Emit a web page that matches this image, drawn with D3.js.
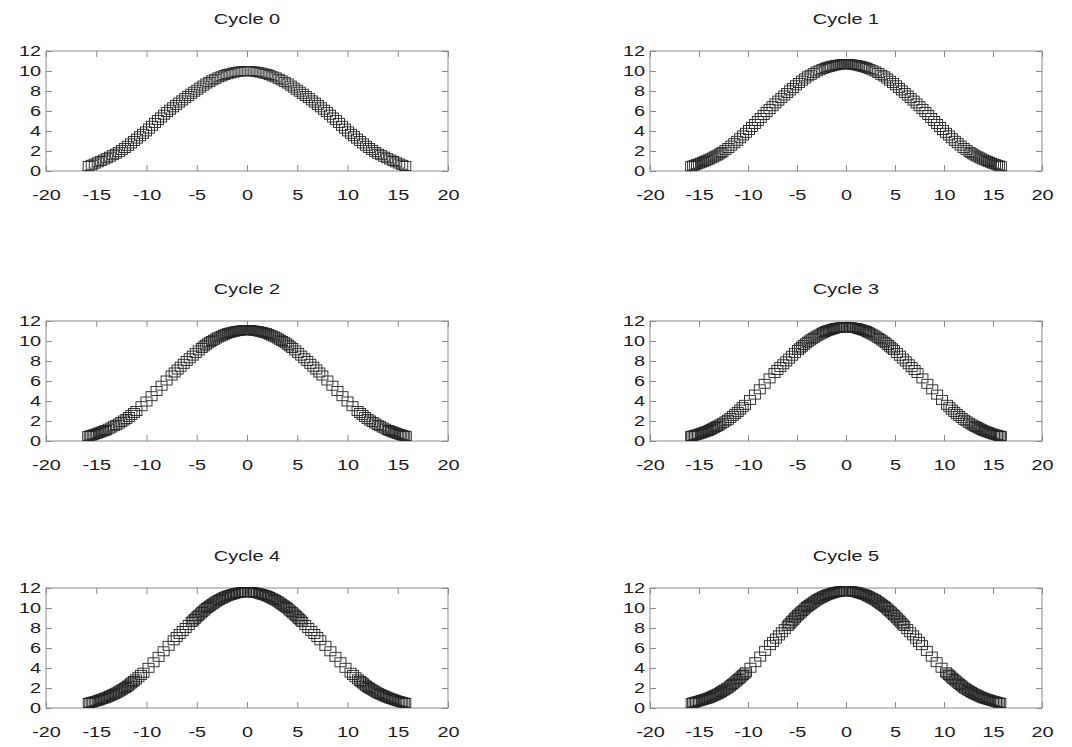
<!DOCTYPE html>
<html>
<head>
<meta charset="utf-8">
<script src="https://cdn.jsdelivr.net/npm/d3@7"></script>
<style>
  body { margin: 0; background: #fff; }
  svg { display: block; font-family: "Liberation Sans", Arial, sans-serif; }
  .box { fill: none; stroke: #8a8a8a; stroke-width: 1; }
  .tick line { stroke: #8a8a8a; }
  .domain { display: none; }
  .tick text { fill: #1a1a1a; font-size: 14px; }
  .title { fill: #1a1a1a; font-size: 14px; text-anchor: middle; }
  .pt { fill: none; stroke: #222; stroke-width: 0.9; }
</style>
</head>
<body>
<svg id="chart"></svg>
<script>
// tick values + panel titles
const titles = ['Cycle 0', 'Cycle 1', 'Cycle 2', 'Cycle 3', 'Cycle 4', 'Cycle 5'];
const xTicks = [-20, -15, -10, -5, 0, 5, 10, 15, 20];
const yTicks = [0, 2, 4, 6, 8, 10, 12];

// particle positions [x, y]
const cycle0 = [
  [-15.75,0.5],[-15.45,0.62],[-15.15,0.74],[-14.85,0.87],[-14.55,1.0],[-14.25,1.14],[-13.95,1.28],[-13.65,1.43],[-13.35,1.58],[-13.05,1.73],
  [-12.75,1.91],[-12.45,2.11],[-12.15,2.3],[-11.85,2.52],[-11.55,2.76],[-11.25,3.0],[-10.95,3.24],[-10.65,3.48],[-10.35,3.72],[-10.05,3.96],
  [-9.75,4.24],[-9.45,4.52],[-9.15,4.81],[-8.85,5.09],[-8.55,5.35],[-8.25,5.63],[-7.95,5.89],[-7.65,6.13],[-7.35,6.37],[-7.05,6.61],
  [-6.75,6.84],[-6.45,7.06],[-6.15,7.29],[-5.85,7.5],[-5.55,7.72],[-5.25,7.93],[-4.95,8.13],[-4.65,8.34],[-4.35,8.54],[-4.05,8.75],
  [-3.75,8.91],[-3.45,9.07],[-3.15,9.22],[-2.85,9.36],[-2.55,9.47],[-2.25,9.59],[-1.95,9.69],[-1.65,9.76],[-1.35,9.84],[-1.05,9.91],
  [-0.75,9.94],[-0.45,9.97],[-0.15,9.99],
  [0.15,9.99],[0.45,9.97],[0.75,9.94],[1.05,9.91],[1.35,9.84],[1.65,9.76],[1.95,9.69],[2.25,9.59],[2.55,9.47],[2.85,9.36],
  [3.15,9.22],[3.45,9.07],[3.75,8.91],[4.05,8.75],[4.35,8.54],[4.65,8.34],[4.95,8.13],[5.25,7.93],[5.55,7.72],[5.85,7.5],
  [6.15,7.29],[6.45,7.06],[6.75,6.84],[7.05,6.61],[7.35,6.37],[7.65,6.13],[7.95,5.89],[8.25,5.63],[8.55,5.35],[8.85,5.09],
  [9.15,4.81],[9.45,4.52],[9.75,4.24],[10.05,3.96],[10.35,3.72],[10.65,3.48],[10.95,3.24],[11.25,3.0],[11.55,2.76],[11.85,2.52],
  [12.15,2.3],[12.45,2.11],[12.75,1.91],[13.05,1.73],[13.35,1.58],[13.65,1.43],[13.95,1.28],[14.25,1.14],[14.55,1.0],[14.85,0.87],
  [15.15,0.74],[15.45,0.62],[15.75,0.5]
];

const cycle1 = [
  [-15.8,0.48],[-15.6,0.55],[-15.4,0.62],[-15.2,0.68],[-15.0,0.75],[-14.8,0.83],[-14.6,0.91],[-14.4,0.99],[-14.2,1.07],[-14.0,1.15],
  [-13.8,1.25],[-13.6,1.35],[-13.4,1.45],[-13.2,1.55],[-13.0,1.65],[-12.8,1.78],[-12.6,1.91],[-12.3,2.11],[-12.0,2.3],[-11.7,2.54],
  [-11.4,2.78],[-11.1,3.02],[-10.8,3.28],[-10.5,3.55],[-10.2,3.82],[-9.9,4.1],[-9.6,4.4],[-9.3,4.7],[-9.0,5.0],[-8.7,5.3],
  [-8.4,5.6],[-8.1,5.9],[-7.8,6.19],[-7.5,6.48],[-7.2,6.76],[-6.9,7.04],[-6.6,7.29],[-6.3,7.55],[-6.0,7.8],[-5.7,8.06],
  [-5.4,8.31],[-5.1,8.57],[-4.8,8.8],[-4.5,9.03],[-4.2,9.25],[-3.9,9.46],[-3.6,9.62],[-3.3,9.79],[-3.0,9.95],[-2.7,10.07],
  [-2.4,10.19],[-2.1,10.31],[-1.9,10.38],[-1.7,10.43],[-1.5,10.48],[-1.3,10.53],[-1.1,10.58],[-0.9,10.61],[-0.7,10.63],[-0.5,10.66],
  [-0.3,10.69],[-0.1,10.7],
  [0.1,10.7],[0.3,10.69],[0.5,10.66],[0.7,10.63],[0.9,10.61],[1.1,10.58],[1.3,10.53],[1.5,10.48],[1.7,10.43],[1.9,10.38],
  [2.1,10.31],[2.4,10.19],[2.7,10.07],[3.0,9.95],[3.3,9.79],[3.6,9.62],[3.9,9.46],[4.2,9.25],[4.5,9.03],[4.8,8.8],
  [5.1,8.57],[5.4,8.31],[5.7,8.06],[6.0,7.8],[6.3,7.55],[6.6,7.29],[6.9,7.04],[7.2,6.76],[7.5,6.48],[7.8,6.19],
  [8.1,5.9],[8.4,5.6],[8.7,5.3],[9.0,5.0],[9.3,4.7],[9.6,4.4],[9.9,4.1],[10.2,3.82],[10.5,3.55],[10.8,3.28],
  [11.1,3.02],[11.4,2.78],[11.7,2.54],[12.0,2.3],[12.3,2.11],[12.6,1.91],[12.8,1.78],[13.0,1.65],[13.2,1.55],[13.4,1.45],
  [13.6,1.35],[13.8,1.25],[14.0,1.15],[14.2,1.07],[14.4,0.99],[14.6,0.91],[14.8,0.83],[15.0,0.75],[15.2,0.68],[15.4,0.62],
  [15.6,0.55],[15.8,0.48]
];

const cycle2 = [
  [-15.8,0.49],[-15.65,0.53],[-15.5,0.57],[-15.35,0.62],[-15.2,0.66],[-15.05,0.7],[-14.9,0.76],[-14.75,0.82],[-14.6,0.87],[-14.45,0.93],
  [-14.3,0.99],[-14.15,1.04],[-14.0,1.1],[-13.75,1.23],[-13.5,1.35],[-13.25,1.48],[-13.0,1.6],[-12.75,1.75],[-12.5,1.9],[-12.25,2.05],
  [-12.0,2.2],[-11.75,2.4],[-11.5,2.6],[-11.25,2.8],[-11.0,3.0],[-10.5,3.48],[-10.0,3.95],[-9.5,4.48],[-9.0,5.0],[-8.5,5.53],
  [-8.0,6.05],[-7.5,6.55],[-7.2,6.85],[-6.9,7.15],[-6.6,7.43],[-6.3,7.72],[-6.0,8.0],[-5.7,8.27],[-5.4,8.54],[-5.1,8.81],
  [-4.8,9.06],[-4.5,9.3],[-4.3,9.46],[-4.1,9.62],[-3.9,9.76],[-3.7,9.88],[-3.5,10.0],[-3.3,10.12],[-3.1,10.24],[-2.9,10.35],
  [-2.7,10.44],[-2.5,10.53],[-2.3,10.62],[-2.1,10.71],[-1.9,10.78],[-1.7,10.83],[-1.5,10.88],[-1.3,10.93],[-1.1,10.98],[-0.9,11.01],
  [-0.7,11.03],[-0.5,11.06],[-0.3,11.09],[-0.1,11.1],
  [0.1,11.1],[0.3,11.09],[0.5,11.06],[0.7,11.03],[0.9,11.01],[1.1,10.98],[1.3,10.93],[1.5,10.88],[1.7,10.83],[1.9,10.78],
  [2.1,10.71],[2.3,10.62],[2.5,10.53],[2.7,10.44],[2.9,10.35],[3.1,10.24],[3.3,10.12],[3.5,10.0],[3.7,9.88],[3.9,9.76],
  [4.1,9.62],[4.3,9.46],[4.5,9.3],[4.8,9.06],[5.1,8.81],[5.4,8.54],[5.7,8.27],[6.0,8.0],[6.3,7.72],[6.6,7.43],
  [6.9,7.15],[7.2,6.85],[7.5,6.55],[8.0,6.05],[8.5,5.53],[9.0,5.0],[9.5,4.48],[10.0,3.95],[10.5,3.48],[11.0,3.0],
  [11.25,2.8],[11.5,2.6],[11.75,2.4],[12.0,2.2],[12.25,2.05],[12.5,1.9],[12.75,1.75],[13.0,1.6],[13.25,1.48],[13.5,1.35],
  [13.75,1.23],[14.0,1.1],[14.15,1.04],[14.3,0.99],[14.45,0.93],[14.6,0.87],[14.75,0.82],[14.9,0.76],[15.05,0.7],[15.2,0.66],
  [15.35,0.62],[15.5,0.57],[15.65,0.53],[15.8,0.49]
];

const cycle3 = [
  [-15.8,0.49],[-15.7,0.51],[-15.55,0.55],[-15.4,0.59],[-15.25,0.63],[-15.1,0.67],[-14.95,0.72],[-14.8,0.77],[-14.65,0.82],[-14.5,0.88],
  [-14.35,0.93],[-14.2,0.98],[-14.05,1.03],[-13.9,1.1],[-13.75,1.18],[-13.6,1.25],[-13.45,1.33],[-13.3,1.4],[-13.15,1.48],[-13.0,1.55],
  [-12.8,1.67],[-12.55,1.82],[-12.3,1.97],[-12.05,2.12],[-11.8,2.31],[-11.55,2.51],[-11.3,2.71],[-11.05,2.91],[-10.8,3.14],[-10.55,3.38],
  [-10.3,3.62],[-9.8,4.11],[-9.3,4.64],[-8.8,5.17],[-8.3,5.72],[-7.8,6.26],[-7.3,6.79],[-7.0,7.1],[-6.7,7.39],[-6.4,7.67],
  [-6.1,7.96],[-5.8,8.24],[-5.5,8.53],[-5.2,8.81],[-4.9,9.09],[-4.7,9.26],[-4.5,9.43],[-4.3,9.6],[-4.1,9.77],[-3.9,9.92],
  [-3.7,10.05],[-3.5,10.18],[-3.3,10.31],[-3.1,10.44],[-2.9,10.55],[-2.7,10.65],[-2.5,10.75],[-2.35,10.83],[-2.2,10.9],[-2.05,10.98],
  [-1.9,11.03],[-1.75,11.08],[-1.6,11.12],[-1.45,11.17],[-1.3,11.21],[-1.15,11.26],[-1.0,11.3],[-0.85,11.31],[-0.7,11.33],[-0.55,11.35],
  [-0.4,11.37],[-0.25,11.39],[-0.1,11.4],
  [0.1,11.4],[0.25,11.39],[0.4,11.37],[0.55,11.35],[0.7,11.33],[0.85,11.31],[1.0,11.3],[1.15,11.26],[1.3,11.21],[1.45,11.17],
  [1.6,11.12],[1.75,11.08],[1.9,11.03],[2.05,10.98],[2.2,10.9],[2.35,10.83],[2.5,10.75],[2.7,10.65],[2.9,10.55],[3.1,10.44],
  [3.3,10.31],[3.5,10.18],[3.7,10.05],[3.9,9.92],[4.1,9.77],[4.3,9.6],[4.5,9.43],[4.7,9.26],[4.9,9.09],[5.2,8.81],
  [5.5,8.53],[5.8,8.24],[6.1,7.96],[6.4,7.67],[6.7,7.39],[7.0,7.1],[7.3,6.79],[7.8,6.26],[8.3,5.72],[8.8,5.17],
  [9.3,4.64],[9.8,4.11],[10.3,3.62],[10.55,3.38],[10.8,3.14],[11.05,2.91],[11.3,2.71],[11.55,2.51],[11.8,2.31],[12.05,2.12],
  [12.3,1.97],[12.55,1.82],[12.8,1.67],[13.0,1.55],[13.15,1.48],[13.3,1.4],[13.45,1.33],[13.6,1.25],[13.75,1.18],[13.9,1.1],
  [14.05,1.03],[14.2,0.98],[14.35,0.93],[14.5,0.88],[14.65,0.82],[14.8,0.77],[14.95,0.72],[15.1,0.67],[15.25,0.63],[15.4,0.59],
  [15.55,0.55],[15.7,0.51],[15.8,0.49]
];

const cycle4 = [
  [-15.75,0.5],[-15.6,0.54],[-15.45,0.58],[-15.3,0.62],[-15.15,0.66],[-15.0,0.7],[-14.85,0.75],[-14.7,0.81],[-14.55,0.86],[-14.4,0.91],
  [-14.25,0.96],[-14.1,1.02],[-13.95,1.07],[-13.8,1.14],[-13.65,1.21],[-13.5,1.28],[-13.35,1.34],[-13.2,1.41],[-13.05,1.48],[-12.9,1.56],
  [-12.75,1.65],[-12.6,1.74],[-12.45,1.83],[-12.3,1.92],[-12.15,2.01],[-12.0,2.1],[-11.85,2.22],[-11.7,2.34],[-11.55,2.46],[-11.4,2.58],
  [-11.25,2.7],[-11.05,2.86],[-10.8,3.08],[-10.55,3.31],[-10.3,3.53],[-9.8,4.02],[-9.3,4.57],[-8.8,5.12],[-8.3,5.67],[-7.8,6.22],
  [-7.3,6.77],[-7.0,7.1],[-6.7,7.4],[-6.4,7.7],[-6.1,8.0],[-5.8,8.3],[-5.5,8.6],[-5.35,8.75],[-5.2,8.9],[-5.05,9.05],
  [-4.9,9.19],[-4.75,9.33],[-4.6,9.46],[-4.45,9.6],[-4.3,9.73],[-4.15,9.87],[-4.0,10.0],[-3.85,10.11],[-3.7,10.21],[-3.55,10.32],
  [-3.4,10.42],[-3.25,10.53],[-3.1,10.63],[-2.95,10.73],[-2.8,10.8],[-2.65,10.88],[-2.5,10.95],[-2.35,11.03],[-2.2,11.1],[-2.05,11.18],
  [-1.9,11.23],[-1.75,11.28],[-1.6,11.32],[-1.45,11.37],[-1.3,11.41],[-1.15,11.46],[-1.0,11.5],[-0.85,11.52],[-0.7,11.54],[-0.55,11.56],
  [-0.4,11.58],[-0.25,11.59],[-0.1,11.6],
  [0.1,11.6],[0.25,11.59],[0.4,11.58],[0.55,11.56],[0.7,11.54],[0.85,11.52],[1.0,11.5],[1.15,11.46],[1.3,11.41],[1.45,11.37],
  [1.6,11.32],[1.75,11.28],[1.9,11.23],[2.05,11.18],[2.2,11.1],[2.35,11.03],[2.5,10.95],[2.65,10.88],[2.8,10.8],[2.95,10.73],
  [3.1,10.63],[3.25,10.53],[3.4,10.42],[3.55,10.32],[3.7,10.21],[3.85,10.11],[4.0,10.0],[4.15,9.87],[4.3,9.73],[4.45,9.6],
  [4.6,9.46],[4.75,9.33],[4.9,9.19],[5.05,9.05],[5.2,8.9],[5.35,8.75],[5.5,8.6],[5.8,8.3],[6.1,8.0],[6.4,7.7],
  [6.7,7.4],[7.0,7.1],[7.3,6.77],[7.8,6.22],[8.3,5.67],[8.8,5.12],[9.3,4.57],[9.8,4.02],[10.3,3.53],[10.55,3.31],
  [10.8,3.08],[11.05,2.86],[11.25,2.7],[11.4,2.58],[11.55,2.46],[11.7,2.34],[11.85,2.22],[12.0,2.1],[12.15,2.01],[12.3,1.92],
  [12.45,1.83],[12.6,1.74],[12.75,1.65],[12.9,1.56],[13.05,1.48],[13.2,1.41],[13.35,1.34],[13.5,1.28],[13.65,1.21],[13.8,1.14],
  [13.95,1.07],[14.1,1.02],[14.25,0.96],[14.4,0.91],[14.55,0.86],[14.7,0.81],[14.85,0.75],[15.0,0.7],[15.15,0.66],[15.3,0.62],
  [15.45,0.58],[15.6,0.54],[15.75,0.5]
];

const cycle5 = [
  [-15.75,0.5],[-15.6,0.54],[-15.45,0.58],[-15.3,0.62],[-15.15,0.66],[-15.0,0.7],[-14.85,0.75],[-14.7,0.79],[-14.55,0.84],[-14.4,0.88],
  [-14.25,0.93],[-14.1,0.97],[-13.95,1.02],[-13.8,1.09],[-13.65,1.16],[-13.5,1.23],[-13.35,1.29],[-13.2,1.36],[-13.05,1.43],[-12.9,1.51],
  [-12.75,1.6],[-12.6,1.69],[-12.45,1.78],[-12.3,1.87],[-12.15,1.96],[-12.0,2.05],[-11.85,2.17],[-11.7,2.29],[-11.55,2.41],[-11.4,2.53],
  [-11.25,2.65],[-11.1,2.77],[-10.95,2.9],[-10.8,3.03],[-10.65,3.17],[-10.5,3.3],[-10.35,3.44],[-10.2,3.57],[-9.75,4.03],[-9.25,4.58],
  [-8.75,5.14],[-8.25,5.71],[-7.75,6.28],[-7.45,6.61],[-7.15,6.94],[-6.85,7.26],[-6.55,7.57],[-6.25,7.89],[-5.95,8.2],[-5.8,8.36],
  [-5.65,8.52],[-5.5,8.68],[-5.35,8.83],[-5.2,8.99],[-5.05,9.15],[-4.9,9.29],[-4.75,9.43],[-4.6,9.56],[-4.45,9.7],[-4.3,9.83],
  [-4.15,9.97],[-4.0,10.1],[-3.85,10.21],[-3.7,10.31],[-3.55,10.42],[-3.4,10.52],[-3.25,10.63],[-3.1,10.73],[-2.95,10.83],[-2.8,10.9],
  [-2.65,10.98],[-2.5,11.05],[-2.35,11.13],[-2.2,11.2],[-2.05,11.28],[-1.9,11.33],[-1.75,11.38],[-1.6,11.42],[-1.45,11.47],[-1.3,11.51],
  [-1.15,11.56],[-1.0,11.6],[-0.85,11.62],[-0.7,11.64],[-0.55,11.66],[-0.4,11.68],[-0.25,11.69],[-0.1,11.7],
  [0.1,11.7],[0.25,11.69],[0.4,11.68],[0.55,11.66],[0.7,11.64],[0.85,11.62],[1.0,11.6],[1.15,11.56],[1.3,11.51],[1.45,11.47],
  [1.6,11.42],[1.75,11.38],[1.9,11.33],[2.05,11.28],[2.2,11.2],[2.35,11.13],[2.5,11.05],[2.65,10.98],[2.8,10.9],[2.95,10.83],
  [3.1,10.73],[3.25,10.63],[3.4,10.52],[3.55,10.42],[3.7,10.31],[3.85,10.21],[4.0,10.1],[4.15,9.97],[4.3,9.83],[4.45,9.7],
  [4.6,9.56],[4.75,9.43],[4.9,9.29],[5.05,9.15],[5.2,8.99],[5.35,8.83],[5.5,8.68],[5.65,8.52],[5.8,8.36],[5.95,8.2],
  [6.25,7.89],[6.55,7.57],[6.85,7.26],[7.15,6.94],[7.45,6.61],[7.75,6.28],[8.25,5.71],[8.75,5.14],[9.25,4.58],[9.75,4.03],
  [10.2,3.57],[10.35,3.44],[10.5,3.3],[10.65,3.17],[10.8,3.03],[10.95,2.9],[11.1,2.77],[11.25,2.65],[11.4,2.53],[11.55,2.41],
  [11.7,2.29],[11.85,2.17],[12.0,2.05],[12.15,1.96],[12.3,1.87],[12.45,1.78],[12.6,1.69],[12.75,1.6],[12.9,1.51],[13.05,1.43],
  [13.2,1.36],[13.35,1.29],[13.5,1.23],[13.65,1.16],[13.8,1.09],[13.95,1.02],[14.1,0.97],[14.25,0.93],[14.4,0.88],[14.55,0.84],
  [14.7,0.79],[14.85,0.75],[15.0,0.7],[15.15,0.66],[15.3,0.62],[15.45,0.58],[15.6,0.54],[15.75,0.5]
];

const cycles = [cycle0, cycle1, cycle2, cycle3, cycle4, cycle5];

const width = 1072, height = 747;
const colLeft = [46, 650], colWidth = [402, 392];
const rowTop = [51, 321, 588], boxH = 120;
const markW = 11, markH = 9;
const sx = 1.42; // the original lettering is drawn wide

const svg = d3.select('#chart').attr('width', width).attr('height', height);

cycles.forEach((pts, i) => {
  const col = i % 2, row = Math.floor(i / 2);
  const w = colWidth[col];
  const g = svg.append('g').attr('transform', `translate(${colLeft[col]},${rowTop[row]})`);

  const x = d3.scaleLinear().domain([-20, 20]).range([0, w]);
  const y = d3.scaleLinear().domain([0, 12]).range([boxH, 0]);

  g.append('text').attr('class', 'title')
    .attr('transform', `translate(${w / 2},-27) scale(${sx},1)`).text(titles[i]);

  // tics point inward on all four sides, labels only bottom/left
  g.append('g').attr('transform', `translate(0,${boxH})`)
    .call(d3.axisBottom(x).tickValues(xTicks).tickSizeInner(-6).tickSizeOuter(0).tickPadding(19).tickFormat(d => String(d)))
    .selectAll('text').attr('transform', `scale(${sx},1)`);
  g.append('g')
    .call(d3.axisTop(x).tickValues(xTicks).tickSizeInner(-6).tickSizeOuter(0).tickFormat(''));
  g.append('g')
    .call(d3.axisLeft(y).tickValues(yTicks).tickSizeInner(-6).tickSizeOuter(0).tickFormat(d => String(d)))
    .selectAll('text').attr('x', -5 / sx).attr('transform', `scale(${sx},1)`);
  g.append('g').attr('transform', `translate(${w},0)`)
    .call(d3.axisRight(y).tickValues(yTicks).tickSizeInner(-6).tickSizeOuter(0).tickFormat(''));

  g.append('rect').attr('class', 'box').attr('width', w).attr('height', boxH);

  g.selectAll('rect.pt').data(pts).enter().append('rect').attr('class', 'pt')
    .attr('x', d => x(d[0]) - markW / 2)
    .attr('y', d => y(d[1]) - markH / 2)
    .attr('width', markW).attr('height', markH);
});
</script>
</body>
</html>
